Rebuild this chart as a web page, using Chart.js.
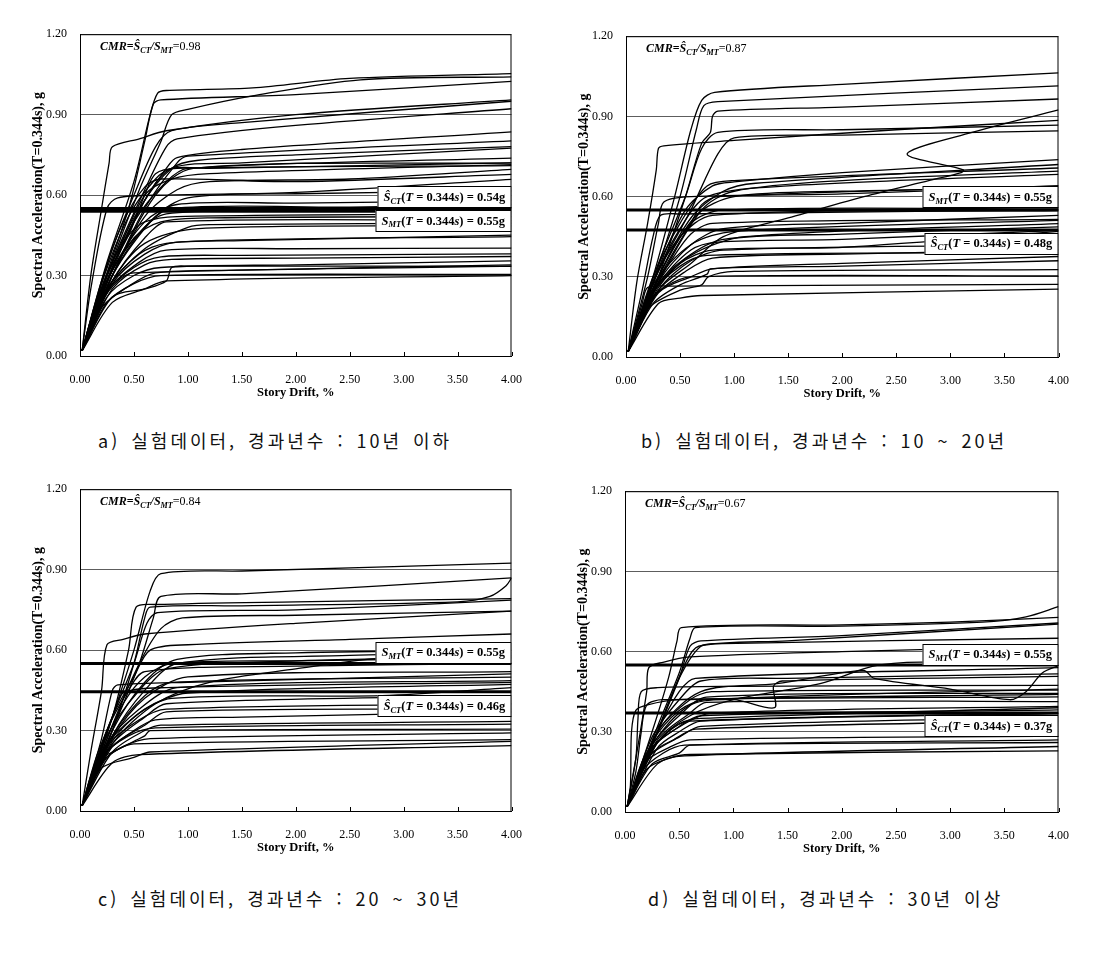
<!DOCTYPE html>
<html lang="ko">
<head>
<meta charset="UTF-8">
<title>IDA curves - story drift vs spectral acceleration</title>
<script src="https://cdn.jsdelivr.net/npm/chart.js"></script>
<style>
  body { margin: 0; background: #fff; width: 1104px; height: 957px; position: relative; overflow: hidden; }
  canvas { position: absolute; }
  .caption {
    position: absolute;
    font-family: "Noto Sans CJK KR", sans-serif;
    font-size: 18px;
    line-height: 20px;
    letter-spacing: 3px;
    word-spacing: 3px;
    color: #111;
    white-space: nowrap;
  }
</style>
</head>
<body>
<canvas id="chartA"></canvas>
<canvas id="chartB"></canvas>
<canvas id="chartC"></canvas>
<canvas id="chartD"></canvas>
<div class="caption" style="left:98px; top:430px;">a) 실험데이터, 경과년수 : 10년 이하</div>
<div class="caption" style="left:641px; top:430px;">b) 실험데이터, 경과년수 : 10 ~ 20년</div>
<div class="caption" style="left:98px; top:888px;">c) 실험데이터, 경과년수 : 20 ~ 30년</div>
<div class="caption" style="left:648px; top:888px;">d) 실험데이터, 경과년수 : 30년 이상</div>

<script>
// each curve: x0,y0, x1,y1, ... (story drift %, Sa in g)
const curvesA = [
  [0.02,0.02, 0.25,0.35, 0.5,0.65, 0.65,0.9, 0.72,0.98, 0.8,0.99, 1.6,1.0, 2.5,1.035, 4,1.053],
  [0.02,0.02, 0.2,0.25, 0.45,0.55, 0.6,0.8, 0.68,0.94, 0.75,0.955, 2,0.975, 4,1.024],
  [0.02,0.02, 0.25,0.3, 0.55,0.62, 0.75,0.8, 0.85,0.9, 1.0,0.92, 1.6,0.97, 2.6,1.03, 4,1.041],
  [0.02,0.02, 0.1,0.3, 0.2,0.55, 0.27,0.72, 0.3,0.78, 0.55,0.81, 0.8,0.84, 2,0.9, 4,0.955],
  [0.02,0.02, 0.3,0.4, 0.5,0.6, 0.7,0.78, 0.85,0.84, 1.5,0.87, 4,0.95],
  [0.02,0.02, 0.3,0.35, 0.6,0.62, 0.8,0.78, 0.9,0.81, 2,0.86, 4,0.922],
  [0.02,0.02, 0.3,0.32, 0.6,0.58, 0.8,0.7, 0.9,0.74, 1.5,0.77, 4,0.836],
  [0.02,0.02, 0.3,0.3, 0.6,0.55, 0.9,0.72, 1.0,0.745, 4,0.802],
  [0.02,0.02, 0.25,0.3, 0.55,0.55, 0.85,0.7, 1.1,0.73, 2,0.75, 4,0.781],
  [0.02,0.02, 0.3,0.33, 0.6,0.58, 0.85,0.7, 1.5,0.72, 4,0.775],
  [0.02,0.02, 0.25,0.28, 0.5,0.5, 0.8,0.65, 1.0,0.7, 4,0.738],
  [0.02,0.02, 0.3,0.3, 0.7,0.6, 1.05,0.7, 4,0.72],
  [0.02,0.02, 0.3,0.33, 0.6,0.6, 0.85,0.66, 1.2,0.68, 4,0.714],
  [0.02,0.02, 0.3,0.3, 0.6,0.52, 0.9,0.62, 1.2,0.65, 2.5,0.66, 4,0.696],
  [0.02,0.02, 0.2,0.28, 0.4,0.5, 0.6,0.63, 0.75,0.66, 2,0.65, 4,0.677],
  [0.02,0.02, 0.1,0.25, 0.25,0.55, 0.35,0.59, 0.8,0.6, 2,0.61, 4,0.659],
  [0.02,0.02, 0.3,0.3, 0.7,0.52, 1.0,0.59, 2,0.605, 4,0.616],
  [0.02,0.02, 0.3,0.32, 0.6,0.5, 0.9,0.565, 2,0.57, 4,0.58],
  [0.02,0.02, 0.3,0.3, 0.6,0.48, 0.85,0.55, 2.5,0.555, 4,0.565],
  [0.02,0.02, 0.25,0.28, 0.55,0.46, 0.8,0.53, 2,0.54, 4,0.55],
  [0.02,0.02, 0.2,0.24, 0.5,0.44, 0.75,0.5, 1.2,0.515, 4,0.52],
  [0.02,0.02, 0.3,0.28, 0.6,0.44, 0.8,0.5, 4,0.505],
  [0.02,0.02, 0.25,0.25, 0.6,0.4, 1.0,0.48, 1.2,0.49, 4,0.495],
  [0.02,0.02, 0.3,0.28, 0.6,0.42, 1.1,0.475, 4,0.485],
  [0.02,0.02, 0.25,0.25, 0.55,0.38, 0.8,0.42, 1.5,0.43, 4,0.451],
  [0.02,0.02, 0.3,0.27, 0.6,0.38, 0.9,0.425, 4,0.445],
  [0.02,0.02, 0.25,0.24, 0.55,0.35, 0.8,0.395, 2,0.4, 4,0.402],
  [0.02,0.02, 0.2,0.22, 0.5,0.33, 0.75,0.37, 1.5,0.375, 4,0.381],
  [0.02,0.02, 0.3,0.25, 0.6,0.34, 0.85,0.36, 2,0.365, 4,0.371],
  [0.02,0.02, 0.25,0.22, 0.5,0.3, 0.75,0.33, 2,0.34, 4,0.355],
  [0.02,0.02, 0.3,0.22, 0.6,0.25, 0.8,0.28, 0.85,0.33, 1.0,0.335, 4,0.334],
  [0.02,0.02, 0.2,0.18, 0.45,0.26, 0.7,0.31, 1.5,0.32, 4,0.34],
  [0.02,0.02, 0.25,0.2, 0.5,0.27, 0.75,0.3, 4,0.304],
  [0.02,0.02, 0.3,0.2, 0.6,0.25, 0.8,0.28, 4,0.3],
  [0.02,0.02, 0.2,0.2, 0.35,0.28, 0.5,0.31, 4,0.335],
  [0.02,0.02, 0.15,0.2, 0.3,0.35, 0.45,0.45, 0.6,0.5, 0.9,0.52, 4,0.53],
  [0.02,0.02, 0.2,0.27, 0.45,0.52, 0.7,0.66, 0.85,0.7, 1.2,0.7, 4,0.72],
  [0.02,0.02, 0.25,0.3, 0.45,0.45, 0.6,0.6, 0.7,0.68, 0.9,0.7, 4,0.71]
];

const curvesB = [
  [0.02,0.02, 0.25,0.3, 0.45,0.6, 0.6,0.85, 0.7,0.96, 0.82,0.99, 2,1.02, 4,1.063],
  [0.02,0.02, 0.25,0.28, 0.5,0.6, 0.65,0.85, 0.72,0.94, 0.85,0.955, 4,1.014],
  [0.02,0.02, 0.3,0.3, 0.55,0.6, 0.7,0.8, 0.78,0.84, 0.8,0.9, 0.85,0.92, 2,0.935, 4,0.965],
  [0.02,0.02, 0.1,0.28, 0.2,0.5, 0.28,0.7, 0.3,0.78, 0.35,0.79, 1.0,0.81, 2.5,0.85, 4,0.885],
  [0.02,0.02, 0.3,0.35, 0.55,0.6, 0.7,0.78, 0.85,0.84, 2,0.85, 4,0.867],
  [0.02,0.02, 0.3,0.32, 0.6,0.55, 0.85,0.76, 1.0,0.82, 2,0.83, 4,0.846],
  [0.02,0.02, 0.3,0.25, 0.6,0.35, 0.9,0.45, 1.5,0.52, 2.2,0.6, 2.8,0.66, 3.1,0.69, 3.12,0.7, 2.6,0.76, 3.2,0.84, 4,0.924],
  [0.02,0.02, 0.3,0.33, 0.55,0.55, 0.8,0.64, 1.0,0.655, 2,0.69, 4,0.738],
  [0.02,0.02, 0.3,0.3, 0.6,0.52, 0.9,0.62, 1.2,0.65, 4,0.72],
  [0.02,0.02, 0.25,0.3, 0.5,0.5, 0.75,0.64, 1.0,0.66, 4,0.707],
  [0.02,0.02, 0.3,0.28, 0.7,0.55, 1.0,0.62, 2,0.66, 4,0.695],
  [0.02,0.02, 0.25,0.28, 0.5,0.48, 0.75,0.6, 1.5,0.64, 4,0.683],
  [0.02,0.02, 0.3,0.3, 0.65,0.53, 1.0,0.6, 2,0.62, 4,0.634],
  [0.02,0.02, 0.2,0.3, 0.3,0.5, 0.35,0.58, 0.6,0.6, 2,0.61, 4,0.64],
  [0.02,0.02, 0.15,0.25, 0.25,0.45, 0.32,0.53, 0.5,0.535, 4,0.55],
  [0.02,0.02, 0.3,0.3, 0.6,0.5, 0.9,0.55, 4,0.554],
  [0.02,0.02, 0.25,0.28, 0.5,0.45, 0.8,0.53, 4,0.548],
  [0.02,0.02, 0.3,0.28, 0.6,0.42, 0.9,0.48, 2,0.5, 4,0.53],
  [0.02,0.02, 0.25,0.27, 0.6,0.42, 1.0,0.47, 4,0.511],
  [0.02,0.02, 0.3,0.26, 0.6,0.38, 1.1,0.45, 4,0.499],
  [0.02,0.02, 0.25,0.25, 0.55,0.37, 0.9,0.44, 2,0.46, 4,0.487],
  [0.02,0.02, 0.3,0.27, 0.6,0.4, 0.85,0.43, 2,0.44, 4,0.474],
  [0.02,0.02, 0.2,0.22, 0.5,0.35, 0.8,0.4, 2,0.41, 4,0.47],
  [0.02,0.02, 0.3,0.25, 0.6,0.36, 0.9,0.4, 4,0.42],
  [0.02,0.02, 0.25,0.22, 0.55,0.32, 0.8,0.37, 2,0.385, 4,0.4],
  [0.02,0.02, 0.3,0.24, 0.6,0.3, 0.8,0.33, 2,0.35, 4,0.376],
  [0.02,0.02, 0.25,0.2, 0.5,0.27, 0.75,0.31, 0.78,0.33, 2,0.34, 4,0.36],
  [0.02,0.02, 0.2,0.18, 0.5,0.25, 0.7,0.27, 0.76,0.3, 1.0,0.32, 4,0.327],
  [0.02,0.02, 0.2,0.2, 0.35,0.26, 0.6,0.3, 4,0.303],
  [0.02,0.02, 0.15,0.2, 0.2,0.26, 0.4,0.265, 4,0.272],
  [0.02,0.02, 0.3,0.2, 0.5,0.22, 0.7,0.23, 4,0.254],
  [0.02,0.02, 0.25,0.25, 0.45,0.4, 0.6,0.5, 0.7,0.57, 0.85,0.6, 4,0.64],
  [0.02,0.02, 0.2,0.22, 0.4,0.35, 0.6,0.46, 0.8,0.5, 4,0.515],
  [0.02,0.02, 0.25,0.24, 0.5,0.34, 0.75,0.38, 4,0.39]
];

const curvesC = [
  [0.02,0.02, 0.3,0.35, 0.5,0.6, 0.65,0.82, 0.75,0.885, 1.5,0.895, 4,0.924],
  [0.02,0.02, 0.3,0.3, 0.55,0.55, 0.68,0.72, 0.75,0.8, 1.5,0.81, 4,0.869],
  [0.02,0.02, 0.3,0.3, 0.5,0.55, 0.6,0.72, 0.65,0.76, 1.5,0.765, 3.5,0.78, 3.8,0.8, 3.95,0.84, 4,0.869],
  [0.02,0.02, 0.3,0.35, 0.45,0.6, 0.52,0.76, 0.7,0.77, 2,0.78, 4,0.792],
  [0.02,0.02, 0.25,0.3, 0.5,0.55, 0.62,0.7, 0.72,0.74, 2,0.75, 4,0.786],
  [0.02,0.02, 0.3,0.32, 0.55,0.55, 0.75,0.68, 0.95,0.72, 2,0.73, 4,0.745],
  [0.02,0.02, 0.1,0.22, 0.2,0.45, 0.25,0.62, 0.4,0.64, 0.6,0.66, 2,0.7, 4,0.745],
  [0.02,0.02, 0.3,0.35, 0.5,0.5, 0.65,0.6, 1.0,0.62, 2.5,0.64, 4,0.66],
  [0.02,0.02, 0.3,0.3, 0.6,0.48, 0.9,0.565, 2,0.59, 4,0.6],
  [0.02,0.02, 0.3,0.28, 0.6,0.45, 0.9,0.55, 2.5,0.58, 4,0.59],
  [0.02,0.02, 0.25,0.28, 0.55,0.45, 0.8,0.53, 2,0.56, 4,0.575],
  [0.02,0.02, 0.3,0.25, 0.7,0.4, 1.2,0.48, 2,0.53, 2.8,0.57, 4,0.58],
  [0.02,0.02, 0.25,0.3, 0.45,0.45, 0.6,0.52, 2,0.54, 4,0.55],
  [0.02,0.02, 0.3,0.27, 0.6,0.42, 1.0,0.5, 4,0.52],
  [0.02,0.02, 0.2,0.27, 0.3,0.45, 0.35,0.47, 1.0,0.48, 4,0.511],
  [0.02,0.02, 0.3,0.28, 0.6,0.43, 0.85,0.48, 4,0.499],
  [0.02,0.02, 0.25,0.25, 0.55,0.38, 0.9,0.46, 4,0.486],
  [0.02,0.02, 0.3,0.26, 0.6,0.38, 1.0,0.44, 4,0.472],
  [0.02,0.02, 0.2,0.22, 0.5,0.35, 0.85,0.42, 2.8,0.43, 4,0.46],
  [0.02,0.02, 0.3,0.25, 0.6,0.35, 0.8,0.4, 4,0.43],
  [0.02,0.02, 0.25,0.24, 0.55,0.34, 0.8,0.38, 4,0.4],
  [0.02,0.02, 0.3,0.24, 0.6,0.32, 0.8,0.37, 4,0.38],
  [0.02,0.02, 0.2,0.2, 0.5,0.3, 0.7,0.34, 1.5,0.35, 4,0.37],
  [0.02,0.02, 0.3,0.22, 0.6,0.3, 0.75,0.32, 4,0.334],
  [0.02,0.02, 0.2,0.2, 0.45,0.28, 0.7,0.31, 4,0.324],
  [0.02,0.02, 0.25,0.2, 0.5,0.26, 0.6,0.28, 0.65,0.3, 4,0.305],
  [0.02,0.02, 0.2,0.18, 0.4,0.24, 0.65,0.27, 4,0.291],
  [0.02,0.02, 0.15,0.18, 0.3,0.22, 0.5,0.25, 4,0.266],
  [0.02,0.02, 0.2,0.16, 0.5,0.2, 0.65,0.22, 4,0.26],
  [0.02,0.02, 0.3,0.18, 0.55,0.21, 4,0.244],
  [0.02,0.02, 0.15,0.2, 0.3,0.35, 0.4,0.44, 0.8,0.46, 4,0.48],
  [0.02,0.02, 0.2,0.22, 0.4,0.4, 0.6,0.5, 0.85,0.55, 2,0.56, 4,0.57]
];

const curvesD = [
  [0.02,0.02, 0.25,0.3, 0.4,0.5, 0.48,0.64, 0.52,0.69, 2,0.7, 3,0.71, 4,0.728],
  [0.02,0.02, 0.3,0.32, 0.5,0.52, 0.6,0.65, 0.65,0.69, 2,0.695, 3.3,0.71, 3.7,0.73, 4,0.768],
  [0.02,0.02, 0.3,0.3, 0.5,0.5, 0.6,0.62, 0.7,0.64, 2,0.66, 4,0.707],
  [0.02,0.02, 0.3,0.3, 0.55,0.55, 0.68,0.62, 1.5,0.64, 4,0.703],
  [0.02,0.02, 0.25,0.25, 0.5,0.5, 0.7,0.62, 0.9,0.63, 4,0.65],
  [0.02,0.02, 0.1,0.2, 0.2,0.45, 0.22,0.54, 0.35,0.56, 0.6,0.58, 2,0.6, 4,0.62],
  [0.02,0.02, 0.3,0.26, 0.6,0.36, 1.0,0.42, 1.8,0.48, 2.2,0.535, 2.35,0.55, 2.6,0.56, 3,0.56, 4,0.56],
  [0.02,0.02, 0.3,0.3, 0.7,0.45, 1.4,0.48, 2.2,0.53, 2.3,0.5, 3.0,0.46, 3.55,0.42, 3.7,0.45, 3.85,0.52, 4,0.548],
  [0.02,0.02, 0.25,0.28, 0.5,0.42, 0.7,0.49, 1.5,0.5, 4,0.517],
  [0.02,0.02, 0.25,0.25, 0.6,0.4, 1.0,0.42, 1.38,0.39, 1.37,0.47, 1.45,0.49, 4,0.507],
  [0.02,0.02, 0.1,0.2, 0.12,0.35, 0.15,0.45, 0.3,0.465, 1.0,0.47, 4,0.474],
  [0.02,0.02, 0.3,0.3, 0.6,0.42, 0.8,0.45, 4,0.456],
  [0.02,0.02, 0.25,0.25, 0.5,0.36, 0.75,0.43, 4,0.444],
  [0.02,0.02, 0.1,0.15, 0.15,0.3, 0.2,0.4, 0.35,0.42, 4,0.431],
  [0.02,0.02, 0.3,0.27, 0.6,0.37, 0.75,0.41, 4,0.413],
  [0.02,0.02, 0.25,0.24, 0.55,0.33, 0.8,0.37, 4,0.395],
  [0.02,0.02, 0.2,0.22, 0.5,0.32, 0.7,0.36, 4,0.382],
  [0.02,0.02, 0.3,0.24, 0.5,0.3, 0.7,0.34, 4,0.368],
  [0.02,0.02, 0.25,0.22, 0.5,0.28, 0.7,0.32, 4,0.355],
  [0.02,0.02, 0.2,0.2, 0.45,0.27, 0.65,0.31, 4,0.34],
  [0.02,0.02, 0.05,0.1, 0.06,0.3, 0.1,0.38, 0.2,0.4, 0.5,0.42, 4,0.44],
  [0.02,0.02, 0.2,0.19, 0.4,0.24, 0.6,0.27, 4,0.284],
  [0.02,0.02, 0.25,0.18, 0.5,0.22, 0.6,0.25, 4,0.26],
  [0.02,0.02, 0.3,0.18, 0.55,0.21, 4,0.245],
  [0.02,0.02, 0.2,0.16, 0.4,0.2, 0.6,0.215, 4,0.229],
  [0.02,0.02, 0.15,0.15, 0.35,0.22, 0.55,0.25, 4,0.27],
  [0.02,0.02, 0.25,0.26, 0.5,0.38, 0.75,0.42, 4,0.46],
  [0.02,0.02, 0.3,0.26, 0.5,0.33, 0.7,0.35, 4,0.39],
  [0.02,0.02, 0.2,0.2, 0.4,0.3, 0.6,0.34, 4,0.37],
  [0.02,0.02, 0.3,0.3, 0.5,0.45, 0.65,0.5, 4,0.54]
];

// median collapse / MCE levels
const cmrValues = [0.98, 0.87, 0.84, 0.67];
const sctValues = [0.54, 0.48, 0.46, 0.37];   // printed in the boxes
const sctLevels = [0.54, 0.475, 0.445, 0.37]; // where the thick line sits
const smtValue = 0.55;

const xTickStep = 0.5, yTickStep = 0.3;

function toPoints(flat) {
  const pts = [];
  for (let i = 0; i < flat.length; i += 2) pts.push({x: flat[i], y: flat[i + 1]});
  return pts;
}

function fontFor(st, fs) {
  return (st.includes('i') ? 'italic ' : '') + (st.includes('b') ? 'bold ' : '') + fs + 'px "Liberation Serif"';
}

function richWidth(ctx, parts, size) {
  let w = 0;
  parts.forEach(([t, st, sub]) => {
    ctx.font = fontFor(st, sub ? size * 0.68 : size);
    w += ctx.measureText(t).width;
  });
  return w;
}

function drawRich(ctx, x, y, parts, size) {
  ctx.textBaseline = 'middle';
  ctx.textAlign = 'left';
  ctx.fillStyle = '#000';
  parts.forEach(([t, st, sub]) => {
    const fs = sub ? size * 0.68 : size;
    ctx.font = fontFor(st, fs);
    ctx.fillText(t, x, sub ? y + size * 0.28 : y);
    x += ctx.measureText(t).width;
  });
}

const sctParts = v => [['Ŝ','bi'],['CT','bi',1],['(','b'],['T','bi'],[' = 0.344','b'],['s','bi'],[') = ' + v.toFixed(2) + 'g','b']];
const smtParts = v => [['S','bi'],['MT','bi',1],['(','b'],['T','bi'],[' = 0.344','b'],['s','bi'],[') = ' + v.toFixed(2) + 'g','b']];

const decorPlugin = {
  id: 'decor',
  afterDraw(chart, args, opts) {
    const {ctx, chartArea: a, scales: {x, y}} = chart;
    ctx.save();
    ctx.strokeStyle = '#000';
    ctx.lineWidth = 1;
    ctx.strokeRect(a.left + 0.5, a.top + 0.5, a.right - a.left - 1, a.bottom - a.top);
    // small inward tick marks on the drift axis
    for (let v = 0; v <= 4.001; v += xTickStep) {
      const px = Math.round(x.getPixelForValue(v)) + 0.5;
      ctx.beginPath(); ctx.moveTo(px, a.bottom); ctx.lineTo(px, a.bottom - 4); ctx.stroke();
    }
    drawRich(ctx, a.left + 20, a.top + 13, [
      ['CMR','bi'],['=','b'],['Ŝ','bi'],['CT','bi',1],['/','bi'],['S','bi'],['MT','bi',1],['=' + opts.cmr.toFixed(2),'']
    ], 12);
    const fs = 12.5;
    opts.boxes.forEach(b => {
      const cy = y.getPixelForValue(b.at);
      const w = Math.max(133, Math.ceil(richWidth(ctx, b.parts, fs)) + 12), h = 21;
      const bx = a.right - w;
      const by = Math.round(cy - h / 2);
      ctx.fillStyle = '#fff';
      ctx.fillRect(bx, by, w, h);
      ctx.strokeStyle = '#000';
      ctx.strokeRect(bx + 0.5, by + 0.5, w - 1, h);
      drawRich(ctx, bx + 6, cy + 1, b.parts, fs);
    });
    ctx.restore();
  }
};

const panels = [
  {id: 'chartA', curves: curvesA, L: 80, R: 519, T: 29, B: 356, i: 0,
   boxes: [{at: 0.593, parts: sctParts(sctValues[0])}, {at: 0.505, parts: smtParts(smtValue)}]},
  {id: 'chartB', curves: curvesB, L: 626, R: 1066, T: 31, B: 357, i: 1,
   boxes: [{at: 0.599, parts: smtParts(smtValue)}, {at: 0.426, parts: sctParts(sctValues[1])}]},
  {id: 'chartC', curves: curvesC, L: 80, R: 519, T: 484, B: 811, i: 2,
   boxes: [{at: 0.592, parts: smtParts(smtValue)}, {at: 0.392, parts: sctParts(sctValues[2])}]},
  {id: 'chartD', curves: curvesD, L: 625, R: 1066, T: 486, B: 812, i: 3,
   boxes: [{at: 0.591, parts: smtParts(smtValue)}, {at: 0.323, parts: sctParts(sctValues[3])}]}
];

const serif = '"Liberation Serif", "Times New Roman", serif';

panels.forEach(p => {
  const cv = document.getElementById(p.id);
  const left = p.L - 60, top = p.T - 15;
  const w = p.R + 12 - left, h = p.B + 54 - top;
  cv.style.left = left + 'px';
  cv.style.top = top + 'px';
  cv.width = w; cv.height = h;
  cv.style.width = w + 'px'; cv.style.height = h + 'px';

  const datasets = p.curves.map(c => ({
    data: toPoints(c), borderColor: '#000', borderWidth: 1.3, pointRadius: 0, tension: 0.3, fill: false
  }));
  [sctLevels[p.i], smtValue].forEach(lv => datasets.push({
    data: [{x: 0, y: lv}, {x: 4, y: lv}], borderColor: '#000', borderWidth: 3, pointRadius: 0, fill: false
  }));

  new Chart(cv, {
    type: 'line',
    data: {datasets},
    options: {
      responsive: false,
      animation: false,
      devicePixelRatio: 1,
      layout: {padding: {top: 15, right: 12, left: 0, bottom: 0}},
      plugins: {
        legend: {display: false},
        tooltip: {enabled: false},
        decor: {cmr: cmrValues[p.i], boxes: p.boxes}
      },
      scales: {
        x: {
          type: 'linear', min: 0, max: 4,
          afterFit: s => { s.height = 54; },
          grid: {display: false},
          border: {display: true, color: '#000', width: 1},
          ticks: {stepSize: xTickStep, padding: 9, color: '#000', font: {family: serif, size: 12},
                  callback: v => v.toFixed(2), maxRotation: 0},
          title: {display: true, text: 'Story Drift, %', color: '#000',
                  font: {family: serif, size: 12.5, weight: 'bold'}, padding: {top: 0, bottom: 10}}
        },
        y: {
          min: 0, max: 1.2,
          afterFit: s => { s.width = 60; },
          grid: {color: '#333', lineWidth: 0.8, drawTicks: false},
          border: {display: true, color: '#000', width: 1},
          ticks: {stepSize: yTickStep, padding: 13, color: '#000', font: {family: serif, size: 12},
                  callback: v => v.toFixed(2)},
          title: {display: true, text: 'Spectral Acceleration(T=0.344s), g', color: '#000',
                  font: {family: serif, size: 14, weight: 'bold'}, padding: {top: 10, bottom: 0}}
        }
      }
    },
    plugins: [decorPlugin]
  });
});
</script>
</body>
</html>
